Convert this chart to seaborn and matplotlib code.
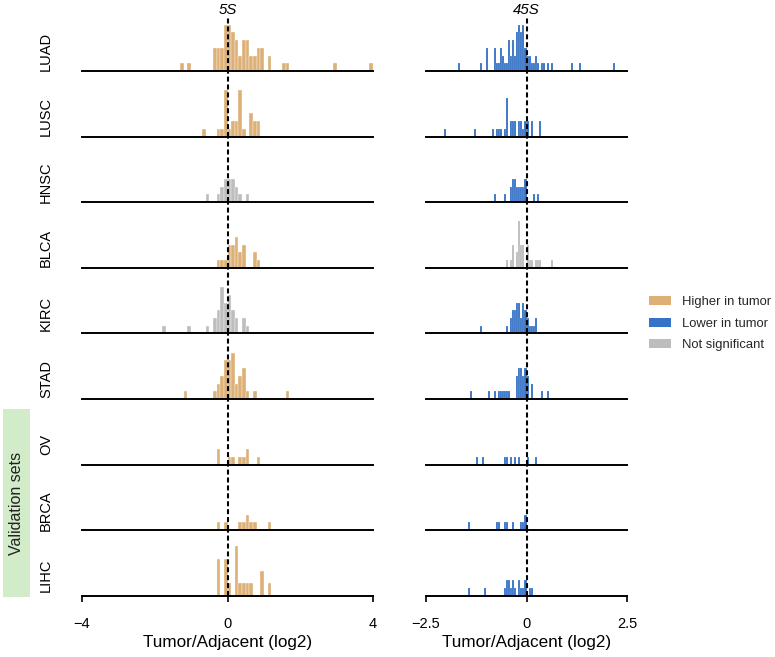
import numpy as np
import pandas as pd
import matplotlib
matplotlib.use('Agg')
import matplotlib.pyplot as plt
import seaborn as sns
from matplotlib.patches import Patch, Rectangle

CANCERS = ['LUAD', 'LUSC', 'HNSC', 'BLCA', 'KIRC', 'STAD', 'OV', 'BRCA', 'LIHC']
N_VALID = 3  # last three rows are validation sets

# H = higher in tumor, L = lower in tumor, N = not significant
STATUS_5S = ['H', 'H', 'N', 'H', 'N', 'H', 'H', 'H', 'H']
STATUS_45S = ['L', 'L', 'L', 'N', 'L', 'L', 'L', 'L', 'L']

# ---- 5S: bin centres (log2 tumor/adjacent, bins of 0.1) and bar heights
LUAD_5S_X = [-1.25, -1.05, -0.35, -0.25, -0.15, -0.05, 0.05, 0.15, 0.25, 0.35,
             0.45, 0.55, 0.65, 0.75, 0.85, 0.95, 1.15, 1.55, 1.65, 2.95, 3.95]
LUAD_5S_H = [1, 1, 3, 3, 3, 6, 6, 5, 4, 2, 4, 4, 2, 2, 3, 3, 2, 1, 1, 1, 1]
LUSC_5S_X = [-0.65, -0.25, -0.15, -0.05, 0.05, 0.15, 0.25, 0.35, 0.45, 0.65,
             0.75, 0.85]
LUSC_5S_H = [1, 1, 1, 6, 1, 2, 2, 6, 1, 3, 2, 2]
HNSC_5S_X = [-0.55, -0.25, -0.15, -0.05, 0.05, 0.15, 0.25, 0.35, 0.55]
HNSC_5S_H = [1, 1, 2, 3, 3, 3, 2, 1, 1]
BLCA_5S_X = [-0.25, -0.15, -0.05, 0.05, 0.15, 0.25, 0.35, 0.45, 0.75, 0.85]
BLCA_5S_H = [1, 1, 1, 3, 3, 4, 2, 3, 2, 1]
KIRC_5S_X = [-1.75, -1.05, -0.55, -0.35, -0.25, -0.15, -0.05, 0.05, 0.15,
             0.25, 0.45, 0.55]
KIRC_5S_H = [1, 1, 1, 2, 3, 6, 4, 5, 3, 2, 2, 1]
STAD_5S_X = [-1.15, -0.35, -0.25, -0.15, -0.05, 0.05, 0.15, 0.25, 0.35, 0.45,
             0.55, 0.75, 1.65]
STAD_5S_H = [1, 1, 2, 3, 5, 5, 6, 2, 3, 4, 1, 1, 1]
OV_5S_X = [-0.25, 0.05, 0.15, 0.35, 0.45, 0.55, 0.85]
OV_5S_H = [2, 1, 1, 1, 1, 2, 1]
BRCA_5S_X = [-0.25, -0.05, 0.35, 0.45, 0.55, 0.65, 0.75, 1.15]
BRCA_5S_H = [1, 1, 1, 1, 2, 1, 1, 1]
LIHC_5S_X = [-0.25, -0.05, 0.05, 0.25, 0.35, 0.45, 0.55, 0.65, 0.95, 1.15]
LIHC_5S_H = [4.8, 4.8, 1.6, 6.4, 1.6, 1.6, 1.6, 1.6, 3.2, 1.6]

# ---- 45S: bin centres (bins of 0.05) and bar heights
LUAD_45S_X = [-1.675, -1.125, -0.975, -0.775, -0.725, -0.675, -0.625, -0.575,
              -0.525, -0.475, -0.425, -0.375, -0.325, -0.275, -0.225, -0.175,
              -0.125, -0.075, -0.025, 0.025, 0.075, 0.125, 0.175, 0.225,
              0.275, 0.375, 0.425, 0.525, 0.625, 1.125, 1.325, 2.175]
LUAD_45S_H = [1, 1, 3, 3, 1, 1, 3, 2, 1, 1, 4, 2, 4, 2, 5, 6, 5, 6, 3, 2, 2,
              1, 1, 2, 1, 1, 1, 1, 1, 1, 1, 1]
LUSC_45S_X = [-2.025, -1.275, -0.825, -0.725, -0.675, -0.625, -0.525, -0.475,
              -0.375, -0.325, -0.275, -0.175, -0.125, -0.075, -0.025, 0.025,
              0.125, 0.325]
LUSC_45S_H = [1, 1, 1, 1, 1, 1, 1, 5, 2, 2, 2, 2, 2, 1, 2, 2, 2, 2]
HNSC_45S_X = [-0.775, -0.525, -0.375, -0.325, -0.275, -0.225, -0.175, -0.125,
              -0.075, -0.025, 0.175, 0.275]
HNSC_45S_H = [1, 1, 2, 3, 3, 2, 2, 2, 2, 3, 1, 1]
BLCA_45S_X = [-0.475, -0.375, -0.325, -0.225, -0.175, -0.125, -0.075, 0.025,
              0.075, 0.125, 0.225, 0.275, 0.325, 0.625]
BLCA_45S_H = [1, 1, 3, 2, 6, 3, 3, 3, 1, 1, 1, 1, 1, 1]
KIRC_45S_X = [-1.125, -0.475, -0.375, -0.325, -0.275, -0.225, -0.175, -0.125,
              -0.075, -0.025, 0.025, 0.075, 0.125, 0.175, 0.225]
KIRC_45S_H = [1, 1, 2, 3, 3, 4, 4, 2, 4, 3, 2, 1, 1, 1, 2]
STAD_45S_X = [-1.375, -0.925, -0.775, -0.675, -0.625, -0.575, -0.525, -0.475,
              -0.425, -0.225, -0.175, -0.125, -0.075, -0.025, 0.025, 0.125,
              0.375, 0.525]
STAD_45S_H = [1, 1, 1, 1, 1, 1, 1, 1, 1, 3, 4, 4, 3, 4, 3, 2, 1, 1]
OV_45S_X = [-1.225, -1.075, -0.525, -0.475, -0.375, -0.275, -0.175, 0.025,
            0.225]
OV_45S_H = [1, 1, 1, 1, 1, 1, 1, 1, 1]
BRCA_45S_X = [-1.425, -0.725, -0.675, -0.525, -0.475, -0.325, -0.125, -0.075,
              -0.025]
BRCA_45S_H = [1, 1, 1, 1, 1, 1, 1, 1, 2]
LIHC_45S_X = [-1.425, -1.025, -0.525, -0.475, -0.425, -0.375, -0.325, -0.275,
              -0.175, -0.125, -0.075, -0.025, 0.075, 0.125]
LIHC_45S_H = [1, 1, 1, 2, 2, 1, 2, 1, 2, 1, 1, 2, 1, 1]

DATA_5S = [(LUAD_5S_X, LUAD_5S_H), (LUSC_5S_X, LUSC_5S_H),
           (HNSC_5S_X, HNSC_5S_H), (BLCA_5S_X, BLCA_5S_H),
           (KIRC_5S_X, KIRC_5S_H), (STAD_5S_X, STAD_5S_H),
           (OV_5S_X, OV_5S_H), (BRCA_5S_X, BRCA_5S_H), (LIHC_5S_X, LIHC_5S_H)]
DATA_45S = [(LUAD_45S_X, LUAD_45S_H), (LUSC_45S_X, LUSC_45S_H),
            (HNSC_45S_X, HNSC_45S_H), (BLCA_45S_X, BLCA_45S_H),
            (KIRC_45S_X, KIRC_45S_H), (STAD_45S_X, STAD_45S_H),
            (OV_45S_X, OV_45S_H), (BRCA_45S_X, BRCA_45S_H),
            (LIHC_45S_X, LIHC_45S_H)]

COLORS = {'H': '#dcb077', 'L': '#3673c6', 'N': '#bdbdbd'}
LABELS = {'H': 'Higher in tumor', 'L': 'Lower in tumor', 'N': 'Not significant'}


def to_long(data, status, gene):
    rows = []
    for cancer, st, (xs, hs) in zip(CANCERS, status, data):
        for x, h in zip(xs, hs):
            rows.append([gene, cancer, st, x, h])
    return pd.DataFrame(rows, columns=['gene', 'cancer', 'status', 'log2', 'height'])


df = pd.concat([to_long(DATA_5S, STATUS_5S, '5S'),
                to_long(DATA_45S, STATUS_45S, '45S')], ignore_index=True)

sns.set_theme(style='white')
plt.rcParams['font.family'] = ['Liberation Sans', 'DejaVu Sans']

W, H = 775, 657
fig = plt.figure(figsize=(W / 100, H / 100), dpi=100)

TOP = 5.4
ROW_H = 65.6
YMAX = 8.5
# gene, left px, width px, x range, bin width, ticks, bar edge width
columns = [
    ('5S', 82, 291, (-4, 4), 0.1, [-4, 0, 4], 0.25),
    ('45S', 426, 201, (-2.5, 2.5), 0.05, [-2.5, 0, 2.5], 0.1),
]

for gene, left, width, xlim, bw, ticks, elw in columns:
    sub = df[df['gene'] == gene]
    for i, cancer in enumerate(CANCERS):
        top_px = TOP + i * ROW_H
        ax = fig.add_axes([left / W, 1 - (top_px + ROW_H) / H, width / W, ROW_H / H])
        part = sub[sub['cancer'] == cancer]
        st = part['status'].iloc[0]
        sns.histplot(data=part, x='log2', weights='height', binwidth=bw,
                     binrange=xlim, color=COLORS[st], alpha=1,
                     edgecolor='white', linewidth=elw, ax=ax)
        ax.set_xlim(*xlim)
        ax.set_ylim(0, YMAX)
        ax.set_ylabel('')
        ax.set_yticks([])
        for s in ['top', 'left', 'right']:
            ax.spines[s].set_visible(False)
        ax.spines['bottom'].set_color('black')
        ax.spines['bottom'].set_linewidth(1.4)
        ax.spines['bottom'].set_zorder(6)
        ax.set_facecolor('none')
        ymax = (ROW_H - 17 + TOP) / ROW_H if i == 0 else 1
        ax.axvline(0, ymin=0, ymax=ymax, color='black', lw=1.5,
                   dashes=(2.4, 1.4), zorder=5)
        if i == len(CANCERS) - 1:
            ax.set_xticks(ticks)
            ax.set_xticklabels([f'{t:g}'.replace('-', '\u2212') for t in ticks])
            ax.tick_params(axis='x', bottom=True, length=4, width=1.2,
                           color='black', pad=11, labelsize=10.5,
                           labelcolor='black')
            ax.set_xlabel('Tumor/Adjacent (log2)', fontsize=12.3, labelpad=3,
                          color='black')
        else:
            ax.set_xticks([])
            ax.set_xlabel('')
        if gene == '5S':
            fig.text(46 / W, 1 - (top_px + ROW_H - 20) / H, cancer, rotation=90,
                     ha='center', va='center', fontsize=10.5, color='black')
    center_px = left + width / 2
    fig.text(center_px / W, 1 - 10 / H, gene, ha='center', va='center',
             fontsize=10.8, style='italic', color='black')

# validation sets box
box_top = TOP + (len(CANCERS) - N_VALID) * ROW_H + 10
box_bot = 597
fig.patches.append(Rectangle((3 / W, 1 - box_bot / H), 27 / W,
                             (box_bot - box_top) / H, transform=fig.transFigure,
                             facecolor='#d2ecca', edgecolor='none'))
fig.text(16.5 / W, 1 - (box_top + box_bot) / 2 / H, 'Validation sets',
         rotation=90, ha='center', va='center', fontsize=11.5, color='#222222')

handles = [Patch(facecolor=COLORS[k], edgecolor='none', label=LABELS[k])
           for k in ['H', 'L', 'N']]
fig.legend(handles=handles, loc='upper left',
           bbox_to_anchor=(649 / W, 1 - 296 / H), bbox_transform=fig.transFigure,
           frameon=False, fontsize=9.4, handlelength=1.7, handleheight=0.7,
           handletextpad=0.85, labelspacing=0.72, borderpad=0, borderaxespad=0)

fig.savefig('out.png', dpi=100)
